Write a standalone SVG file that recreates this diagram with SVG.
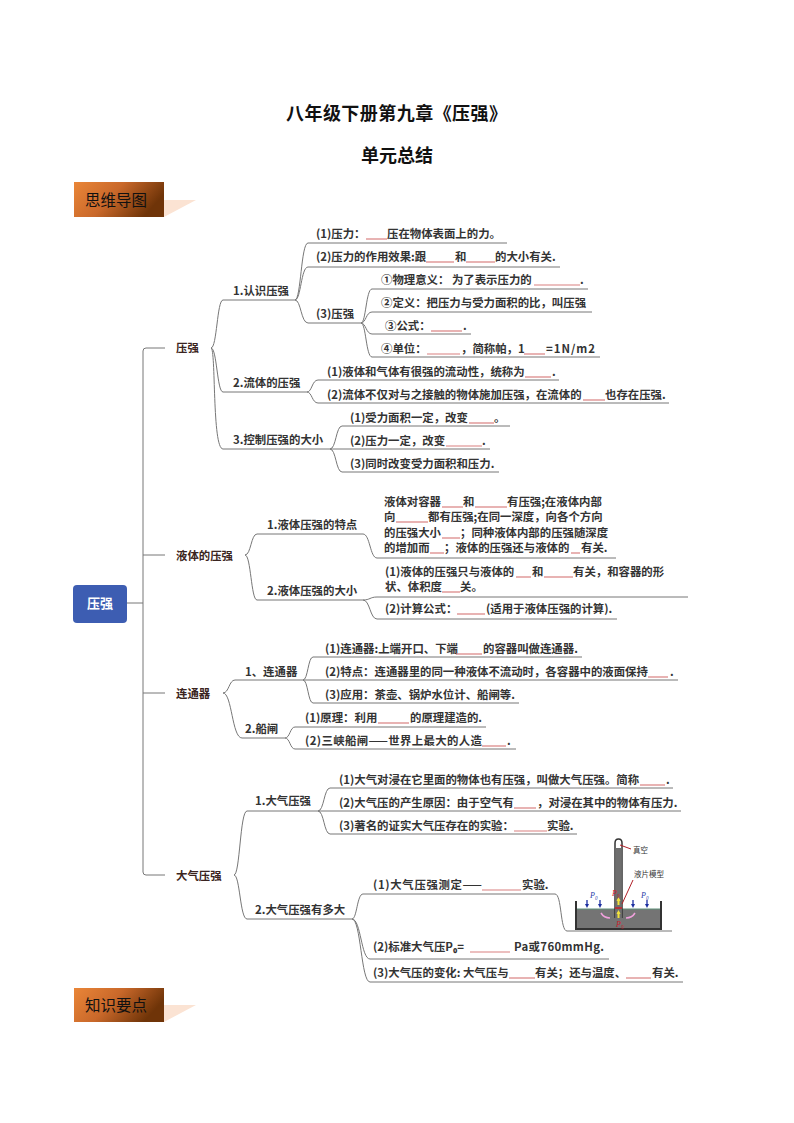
<svg xmlns="http://www.w3.org/2000/svg" width="794" height="1123" viewBox="0 0 794 1123">
<style>
text{font-family:"Noto Sans CJK SC","Noto Sans",sans-serif;font-size:11.4px;font-weight:700;fill:#333}
.h{font-size:18px;fill:#111}
.n{fill:#3a2420}
.ban{font-size:15.5px;font-weight:400;fill:#111}
.root{fill:#fff;font-size:13px}
.c{fill:none;stroke:#777;stroke-width:1}
.b{fill:none;stroke:#d98080;stroke-width:1.2}
.tiny{font-size:7.5px;font-weight:400;fill:#333}
.p{font-size:8px;font-style:italic;font-weight:400;font-family:"Liberation Serif",serif}
</style>
<defs>
<linearGradient id="g" x1="0" y1="0" x2="1" y2="0.35"><stop offset="0" stop-color="#ea8638"/><stop offset="0.5" stop-color="#c9682a"/><stop offset="1" stop-color="#6f3408"/></linearGradient>
</defs>
<rect width="794" height="1123" fill="#fff"/>
<g id="title"><text class="h" x="286" y="120" textLength="221">八年级下册第九章《压强》</text><text class="h" x="361" y="162">单元总结</text></g>
<g id="banner1"><path d="M164 200H196L164 217Z" fill="#fbe3d3"/><rect x="74" y="182" width="90" height="35" fill="url(#g)"/><text class="ban" x="85" y="206">思维导图</text></g>
<g id="banner2"><path d="M164 1005H196L164 1022Z" fill="#fbe3d3"/><rect x="74" y="988" width="90" height="34" fill="url(#g)"/><text class="ban" x="85" y="1011">知识要点</text></g>

<g id="connectors">
<path class="c" d="M127 603H143M165 348H146Q143 348 143 351V872Q143 875 146 875H165M143 555H165M143 693H165"/>
<path class="c" d="M211 348C217 348 217 300 223 300H295M211 348C217 348 217 392 223 392H307M211 348C216 348 212 449 223 449H490"/>
<path class="c" d="M295 300C301 300 301 243 308 243H507M295 300C301 300 301 267 308 267H560M295 300C301 300 301 323 308 323H361"/>
<path class="c" d="M361 323C366 323 366 289 372 289H588M361 323C366 323 366 312 372 312H592M361 323C366 323 366 334 372 334H471M361 323C366 323 366 357 372 357H600"/>
<path class="c" d="M307 392C312 392 312 380 318 380H559M307 392C312 392 312 403 318 403H669"/>
<path class="c" d="M330 449C336 449 336 426 342 426H510M330 449C336 449 336 472 342 472H499"/>
<path class="c" d="M245 555C251 555 251 534 257 534H363C370 534 370 558 377 558H616M245 555C251 555 251 600 257 600H363C370 600 370 597 377 597H688M363 600C370 600 370 619 377 619H617"/>
<path class="c" d="M223 693C229 693 229 680 235 680H303C308 680 308 657 313 657H582M303 680H678M303 680C308 680 308 703 313 703H519"/>
<path class="c" d="M223 693C232 693 232 738 242 738H285C290 738 290 727 295 727H486M285 738C290 738 290 749 295 749H516"/>
<path class="c" d="M234 875C240 875 240 811 247 811H318C324 811 324 788 330 788H673M318 811H681M318 811C324 811 324 834 330 834H577"/>
<path class="c" d="M234 875C240 875 240 919 247 919H352C357 919 357 894 363 894H555C562 894 560 931 567 931H672M352 919C361 919 361 959 370 959H609M352 919C361 919 361 982 370 982H683"/>
</g>

<g id="root"><rect x="73" y="585" width="54" height="38" rx="4" fill="#3d5db2"/><text class="root" x="87" y="608">压强</text></g>
<g id="n-yaqiang"><text class="n" x="176" y="352">压强</text></g>
<g id="n-yeti"><text class="n" x="176" y="560">液体的压强</text></g>
<g id="n-liantong"><text class="n" x="176" y="698">连通器</text></g>
<g id="n-daqi"><text class="n" x="176" y="880">大气压强</text></g>

<g id="n-renshi"><text x="233" y="295">1.认识压强</text></g>
<g id="n-liuti"><text x="233" y="387">2.流体的压强</text></g>
<g id="n-kongzhi"><text x="233" y="444">3.控制压强的大小</text></g>
<g id="n-r1"><text x="316" y="238">(1)压力：</text><path class="b" d="M366 239H387"/><text x="387" y="238">压在物体表面上的力。</text></g>
<g id="n-r2"><text x="316" y="261">(2)压力的作用效果:跟</text><path class="b" d="M426 262H454"/><text x="455" y="261">和</text><path class="b" d="M466 262H495"/><text x="495" y="261">的大小有关.</text></g>
<g id="n-r3"><text x="316" y="318">(3)压强</text></g>
<g id="n-r31"><text x="381" y="284">①物理意义： 为了表示压力的</text><path class="b" d="M534 285H580"/><text x="580" y="284">.</text></g>
<g id="n-r32"><text x="381" y="307">②定义：把压力与受力面积的比，叫压强</text></g>
<g id="n-r33"><text x="385" y="330">③公式：</text><path class="b" d="M431 331H462"/><text x="463" y="330">.</text></g>
<g id="n-r34"><text x="381" y="353">④单位：</text><path class="b" d="M427 354H460"/><text x="461" y="353">，简称帕，1</text><path class="b" d="M524 354H545"/><text x="546" y="353" textLength="49">=1N/m2</text></g>
<g id="n-l1"><text x="327" y="376">(1)液体和气体有很强的流动性，统称为</text><path class="b" d="M525 377H551"/><text x="552" y="376">.</text></g>
<g id="n-l2"><text x="327" y="399">(2)流体不仅对与之接触的物体施加压强，在流体的</text><path class="b" d="M583 400H605"/><text x="605" y="399">也存在压强.</text></g>
<g id="n-k1"><text x="350" y="422">(1)受力面积一定，改变</text><path class="b" d="M469 423H494"/><text x="494" y="422">。</text></g>
<g id="n-k2"><text x="350" y="445">(2)压力一定，改变</text><path class="b" d="M446 446H482"/><text x="482" y="445">.</text></g>
<g id="n-k3"><text x="350" y="468">(3)同时改变受力面积和压力.</text></g>

<g id="n-yt1"><text x="267" y="529">1.液体压强的特点</text></g>
<g id="n-yt2"><text x="267" y="595">2.液体压强的大小</text></g>
<g id="n-yt1p">
<text x="384" y="506">液体对容器</text><path class="b" d="M442 507H463"/><text x="463" y="506">和</text><path class="b" d="M475 507H507"/><text x="507" y="506">有压强;在液体内部</text>
<text x="384" y="521">向</text><path class="b" d="M396 522H428"/><text x="428" y="521">都有压强;在同一深度，向各个方向</text>
<text x="384" y="537">的压强大小</text><path class="b" d="M442 538H460"/><text x="460" y="537">；同种液体内部的压强随深度</text>
<text x="384" y="552">的增加而</text><path class="b" d="M430 553H444"/><text x="444" y="552">；液体的压强还与液体的</text><path class="b" d="M571 553H580"/><text x="581" y="552">有关.</text>
</g>
<g id="n-yt21">
<text x="385" y="576">(1)液体的压强只与液体的</text><path class="b" d="M516 577H531"/><text x="532" y="576">和</text><path class="b" d="M544 577H573"/><text x="573" y="576">有关，和容器的形</text>
<text x="385" y="591">状、体积度</text><path class="b" d="M442 592H460"/><text x="460" y="591">关。</text>
</g>
<g id="n-yt22"><text x="385" y="613">(2)计算公式：</text><path class="b" d="M457 614H485"/><text x="486" y="613">(适用于液体压强的计算).</text></g>

<g id="n-lt1"><text x="245" y="676">1、连通器</text></g>
<g id="n-lt2"><text x="245" y="733">2.船闸</text></g>
<g id="n-lt11"><text x="325" y="653">(1)连通器:上端开口、下端</text><path class="b" d="M456 654H482"/><text x="483" y="653">的容器叫做连通器.</text></g>
<g id="n-lt12"><text x="325" y="676">(2)特点：连通器里的同一种液体不流动时，各容器中的液面保持</text><path class="b" d="M648 677H668"/><text x="670" y="676">.</text></g>
<g id="n-lt13"><text x="325" y="699">(3)应用：茶壶、锅炉水位计、船闸等.</text></g>
<g id="n-lt21"><text x="305" y="722">(1)原理：利用</text><path class="b" d="M378 723H409"/><text x="410" y="722">的原理建造的.</text></g>
<g id="n-lt22"><text x="305" y="745" textLength="177">(2)三峡船闸——世界上最大的人造</text><path class="b" d="M482 746H506"/><text x="507" y="745">.</text></g>

<g id="n-dq1"><text x="255" y="805">1.大气压强</text></g>
<g id="n-dq2"><text x="255" y="914">2.大气压强有多大</text></g>
<g id="n-dq11"><text x="339" y="784">(1)大气对浸在它里面的物体也有压强，叫做大气压强。简称</text><path class="b" d="M640 785H665"/><text x="666" y="784">.</text></g>
<g id="n-dq12"><text x="339" y="807">(2)大气压的产生原因：由于空气有</text><path class="b" d="M514 808H536"/><text x="537" y="807">，对浸在其中的物体有压力.</text></g>
<g id="n-dq13"><text x="339" y="830">(3)著名的证实大气压存在的实验：</text><path class="b" d="M514 831H547"/><text x="547" y="830">实验.</text></g>
<g id="n-dq21"><text x="373" y="889" textLength="109">(1)大气压强测定——</text><path class="b" d="M482 890H521"/><text x="522" y="889">实验.</text></g>
<g id="n-dq22"><text x="373" y="951">(2)标准大气压P₀=</text><path class="b" d="M470 952H510"/><text x="514" y="951" textLength="90">Pa或760mmHg.</text></g>
<g id="n-dq23"><text x="373" y="977">(3)大气压的变化: 大气压与</text><path class="b" d="M509 978H535"/><text x="535" y="977">有关；还与温度、</text><path class="b" d="M626 978H651"/><text x="652" y="977">有关.</text></g>

<g id="figure">
<rect x="576" y="909" width="85" height="20" fill="#747474"/>
<path d="M577 909H660" stroke="#5f8f78" stroke-width="1"/>
<path d="M576 901V929H661V901" fill="none" stroke="#333" stroke-width="2"/>
<path d="M615 918V843Q615 839 618.500 839Q622 839 622 843V918" fill="#fff" stroke="#333" stroke-width="1.500"/>
<rect x="615.500" y="848" width="6" height="70" fill="#6e6e6e"/>
<g stroke="#1c2fa0" stroke-width="1.300" fill="#1c2fa0">
<path d="M587 900V905M600 900V905M633 900V905M647 900V905"/>
<path d="M585 904H589L587 908ZM598 904H602L600 908ZM631 904H635L633 908ZM645 904H649L647 908Z" stroke="none"/>
</g>
<path d="M618.500 899V905M618.500 912V918" stroke="#f2e23a" stroke-width="2"/>
<path d="M616.500 901L618.500 897L620.500 901ZM616.500 914L618.500 910L620.500 914Z" fill="#f2e23a"/>
<path d="M615 908H622" stroke="#c8202a" stroke-width="1.500"/>
<path d="M620 845L631 849M633 880L622 904" stroke="#b02028" fill="none"/>
<path d="M601 913Q604 918 610 918M635 913Q632 918 626 918" stroke="#f0a0dc" stroke-width="1.500" fill="none"/>
<text class="tiny" x="633" y="853">真空</text>
<text class="tiny" x="634" y="877">液片模型</text>
<text class="p" x="590" y="898" style="fill:#2a3aa8">P₀</text>
<text class="p" x="641" y="898" style="fill:#2a3aa8">P₀</text>
<text class="p" x="612" y="896" style="fill:#c8202a">P₀</text>
<text class="p" x="616" y="927" style="fill:#c8202a">P₀</text>
</g>
</svg>
